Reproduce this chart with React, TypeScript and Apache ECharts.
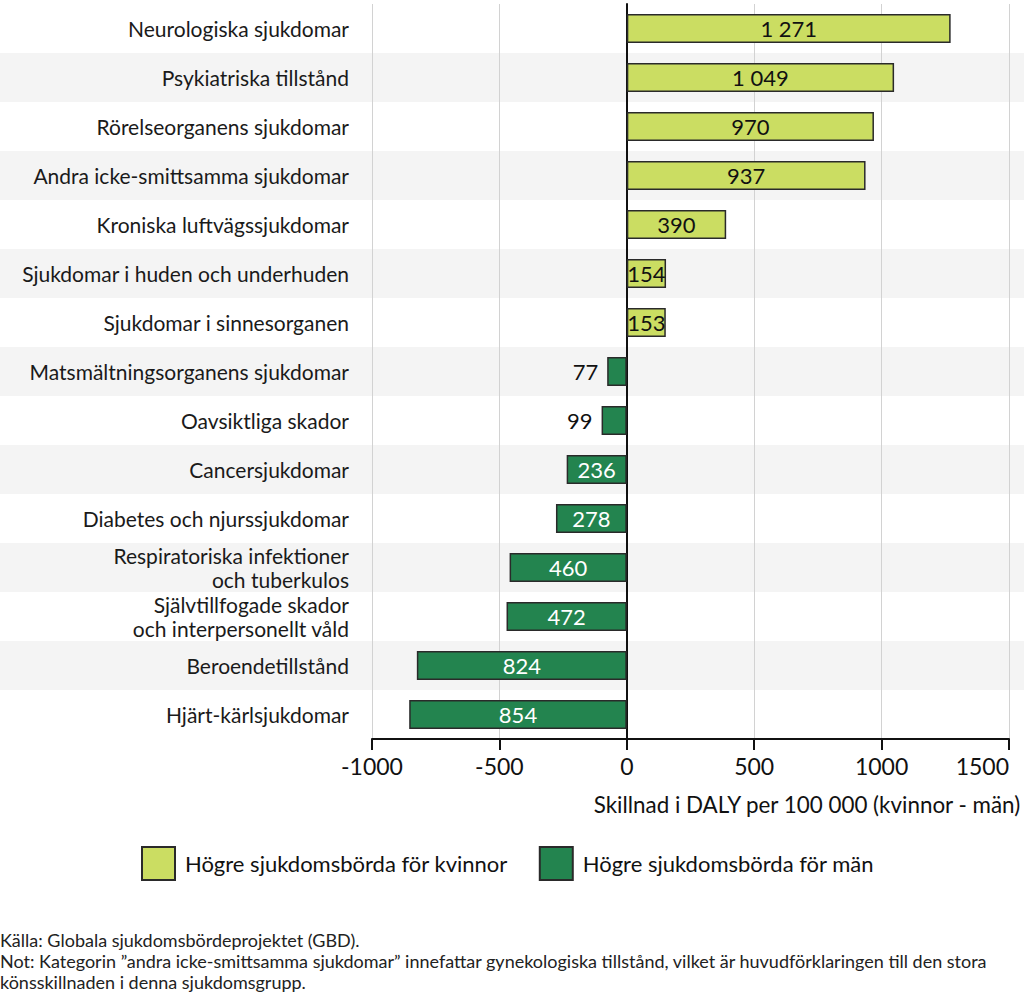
import React, { useEffect, useRef } from "react";
import * as echarts from "echarts";

const categories = [
  "Neurologiska sjukdomar",
  "Psykiatriska tillstånd",
  "Rörelseorganens sjukdomar",
  "Andra icke-smittsamma sjukdomar",
  "Kroniska luftvägssjukdomar",
  "Sjukdomar i huden och underhuden",
  "Sjukdomar i sinnesorganen",
  "Matsmältningsorganens sjukdomar",
  "Oavsiktliga skador",
  "Cancersjukdomar",
  "Diabetes och njurssjukdomar",
  "Respiratoriska infektioner\noch tuberkulos",
  "Självtillfogade skador\noch interpersonellt våld",
  "Beroendetillstånd",
  "Hjärt-kärlsjukdomar",
];

const values = [1271, 1049, 970, 937, 390, 154, 153, -77, -99, -236, -278, -460, -472, -824, -854];

const xMin = -1000;
const xMax = 1500;
const xInterval = 500;

const seriesNames = ["Högre sjukdomsbörda för kvinnor", "Högre sjukdomsbörda för män"];
const axisTitle = "Skillnad i DALY per 100 000 (kvinnor - män)";
const sourceLines = [
  "Källa: Globala sjukdomsbördeprojektet (GBD).",
  "Not: Kategorin ”andra icke-smittsamma sjukdomar” innefattar gynekologiska tillstånd, vilket är huvudförklaringen till den stora",
  "könsskillnaden i denna sjukdomsgrupp.",
];

const LIGHT = "#cbdd62";
const DARK = "#23844f";
const BORDER = "#2a2a2a";
const FONT = "Lato";

const fmt = (v: number) => {
  const s = String(Math.abs(Math.round(v)));
  return s.replace(/\B(?=(\d{3})+(?!\d))/g, " ");
};

export default function App() {
  const ref = useRef<HTMLDivElement>(null);
  useEffect(() => {
    if (!ref.current) return;
    const chart = echarts.init(ref.current, null, { renderer: "svg" });
    const womenData = values.map((v) => (v > 0 ? v : "-"));
    const menData = values.map((v) => {
      if (v >= 0) return "-";
      if (Math.abs(v) < 100) {
        return {
          value: v,
          label: { position: "left", color: "#111", distance: 9 },
        };
      }
      return v;
    });
    chart.setOption({
      animation: false,
      textStyle: { fontFamily: FONT },
      grid: [
        { left: 372, right: 15, top: 4, height: 735, containLabel: false },
        { left: 0, right: 0, top: 4, height: 735, containLabel: false },
      ],
      xAxis: [
        {
          type: "value",
          gridIndex: 0,
          min: xMin,
          max: xMax,
          interval: xInterval,
          axisLine: { show: true, onZero: false, lineStyle: { color: "#111", width: 2 } },
          axisTick: { show: true, length: 11, lineStyle: { color: "#111", width: 2 } },
          axisLabel: {
            fontSize: 23,
            color: "#111",
            margin: 15,
            fontFamily: FONT,
            alignMaxLabel: "right",
            formatter: (v: number) => String(v),
          },
          splitLine: { show: true, lineStyle: { color: "#d2d2d2", width: 1 } },
        },
        {
          type: "value",
          gridIndex: 1,
          min: 0,
          max: 1,
          show: false,
        },
      ],
      yAxis: [
        {
          type: "category",
          gridIndex: 0,
          data: categories,
          inverse: true,
          axisLine: { show: true, onZero: true, lineStyle: { color: "#111", width: 2 } },
          axisTick: { show: false },
          axisLabel: {
            fontSize: 21,
            color: "#1a1a1a",
            margin: 23,
            lineHeight: 23.5,
            fontFamily: FONT,
          },
          z: 3,
        },
        {
          type: "category",
          gridIndex: 1,
          data: categories,
          inverse: true,
          axisLine: { show: false },
          axisTick: { show: false },
          axisLabel: { show: false },
          splitLine: { show: false },
          splitArea: { show: true, areaStyle: { color: ["#ffffff", "#f4f4f4"] } },
          z: -1,
        },
      ],
      legend: {
        left: 141,
        top: 846,
        padding: 0,
        itemWidth: 33,
        itemHeight: 33,
        itemGap: 31,
        icon: "rect",
        textStyle: { fontSize: 22, color: "#111", fontFamily: FONT, padding: [0, 0, 0, 5] },
        data: seriesNames,
      },
      series: [
        {
          name: seriesNames[0],
          type: "bar",
          xAxisIndex: 0,
          yAxisIndex: 0,
          stack: "total",
          barWidth: 29,
          data: womenData,
          itemStyle: { color: LIGHT, borderColor: BORDER, borderWidth: 1.5 },
          label: {
            show: true,
            position: "inside",
            color: "#111",
            fontSize: 22,
            fontFamily: FONT,
            formatter: (p: any) => fmt(p.value),
          },
          z: 4,
        },
        {
          name: seriesNames[1],
          type: "bar",
          xAxisIndex: 0,
          yAxisIndex: 0,
          stack: "total",
          barWidth: 29,
          data: menData,
          itemStyle: { color: DARK, borderColor: BORDER, borderWidth: 1.5 },
          label: {
            show: true,
            position: "inside",
            color: "#ffffff",
            fontSize: 22,
            fontFamily: FONT,
            formatter: (p: any) => fmt(p.value),
          },
          z: 4,
        },
      ],
      graphic: [
        {
          type: "text",
          right: 2,
          top: 793,
          style: { text: axisTitle, fontSize: 22.4, fill: "#111", fontFamily: FONT },
        },
        {
          type: "text",
          left: 0,
          top: 929,
          style: {
            text: sourceLines.join("\n"),
            fontSize: 18,
            lineHeight: 21,
            fill: "#222",
            fontFamily: FONT,
          },
        },
      ],
    });
    return () => chart.dispose();
  }, []);
  return (
    <div
      ref={ref}
      style={{ position: "absolute", left: 0, top: 0, width: 1024, height: 995, background: "#fff" }}
    />
  );
}
